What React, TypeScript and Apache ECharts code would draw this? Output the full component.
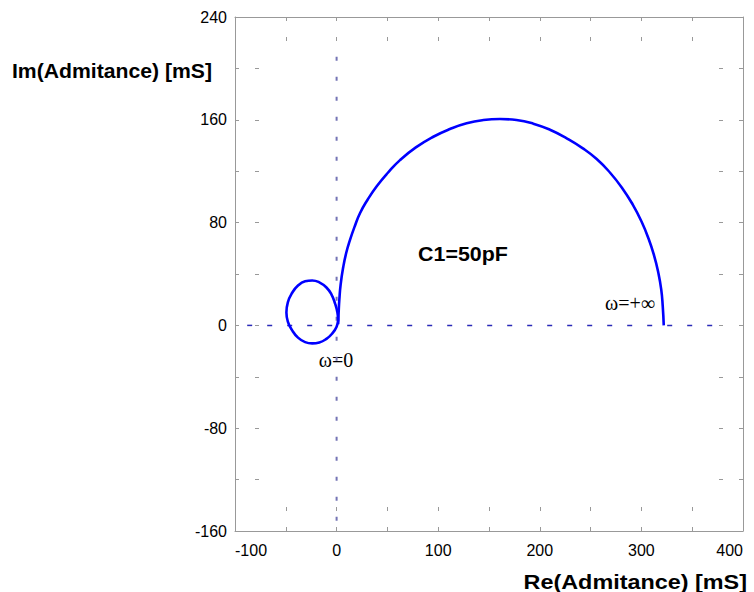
import React, { useEffect, useRef } from "react";
import * as echarts from "echarts";

// Tick labels
const xTicks = [-100, 0, 100, 200, 300, 400];
const yTicks = [-160, -80, 0, 80, 160, 240];

// Small loop near the origin (Re, Im) in mS
const loopRe = [1.5, 0, -4, -10, -17, -24, -31, -38, -44, -48, -49.4, -48, -44, -38, -31, -24, -17, -10, -5, -1.5, 0.8, 1.5];
const loopIm = [4, -1, -6, -10.5, -13.3, -14, -13, -9.5, -3.5, 3, 10, 18, 25, 31, 34.3, 35, 33.5, 29.5, 24, 17, 10, 4];

// Large arc (Re, Im) in mS
const arcRe = [1.5, 2, 2.7, 4, 6.6, 9.5, 13.2, 17.8, 23, 30.5, 39.5, 50.5, 62.4, 78, 95.2, 111.5, 128, 144.5, 160.8, 177, 193.6, 210, 226.5, 242, 256, 269, 281, 291.5, 300, 307, 312.5, 316.5, 319.5, 321, 322];
const arcIm = [1, 10, 20, 32, 45.7, 56.5, 66.5, 77, 87.3, 97.8, 108.3, 118.8, 128.6, 138.5, 146.8, 152.8, 157.3, 159.8, 160.6, 159.8, 157, 152.3, 145.6, 138, 129.5, 119, 107, 94, 81, 67.6, 54.3, 41.6, 28, 15, 0];

// Reference axes through the origin
const hAxisRe = [-88, 378];
const hAxisIm = [0, 0];
const vAxisRe = [0, 0];
const vAxisIm = [-152, 212];

const xLabel = "Re(Admitance) [mS]";
const yLabel = "Im(Admitance) [mS]";
const noteC = "C1=50pF";
const noteW0 = "ω=0";
const noteWinf = "ω=+∞";

const SANS = '"Liberation Sans", Arial, sans-serif';
const SERIF = '"Liberation Serif", "Times New Roman", serif';

const zip = (a: number[], b: number[]) => a.map((v, i) => [v, b[i]]);

export default function App() {
  const ref = useRef<HTMLDivElement>(null);
  useEffect(() => {
    document.body.style.margin = "0";
    const chart = echarts.init(ref.current!, undefined, { renderer: "svg" });
    const tick = { show: true, inside: true, length: 25, lineStyle: { color: "#999", width: 1, type: [4, 16] as any } };
    const line = { show: true, onZero: false, lineStyle: { color: "#999", width: 1 } };
    chart.setOption({
      animation: false,
      backgroundColor: "#fff",
      grid: { left: 235, right: 11, top: 17, bottom: 61, containLabel: false },
      xAxis: [
        {
          type: "value", min: -100, max: 400, interval: 50, position: "bottom",
          axisLine: line, axisTick: tick, splitLine: { show: false },
          axisLabel: {
            color: "#000", fontFamily: SANS, fontSize: 16, margin: 11,
            alignMinLabel: "left", alignMaxLabel: "right",
            formatter: (v: number) => (xTicks.includes(v) ? String(v) : ""),
          },
        },
        {
          type: "value", min: -100, max: 400, interval: 50, position: "top",
          axisLine: line, axisTick: tick, splitLine: { show: false }, axisLabel: { show: false },
        },
      ],
      yAxis: [
        {
          type: "value", min: -160, max: 240, interval: 40, position: "left",
          axisLine: line, axisTick: tick, splitLine: { show: false },
          axisLabel: {
            color: "#000", fontFamily: SANS, fontSize: 16, margin: 8, padding: [6, 0, 0, 0],
            formatter: (v: number) => (yTicks.includes(v) ? String(v) : ""),
          },
        },
        {
          type: "value", min: -160, max: 240, interval: 40, position: "right",
          axisLine: line, axisTick: tick, splitLine: { show: false }, axisLabel: { show: false },
        },
      ],
      series: [
        {
          type: "line", data: zip(hAxisRe, hAxisIm), showSymbol: false, silent: true,
          lineStyle: { color: "#2b2bb8", width: 1.5, type: [5, 15] as any },
        },
        {
          type: "line", data: zip(vAxisRe, vAxisIm), showSymbol: false, silent: true,
          lineStyle: { color: "#7474b4", width: 2, type: [4, 16] as any },
        },
        {
          type: "line", data: zip(loopRe, loopIm), showSymbol: false, smooth: 0.5,
          lineStyle: { color: "#0000ff", width: 2.6 },
        },
        {
          type: "line", data: zip(arcRe, arcIm), showSymbol: false, smooth: 0.5,
          lineStyle: { color: "#0000ff", width: 2.6 },
        },
      ],
      graphic: [
        {
          type: "text", x: 212, y: 71, scaleX: 1.06,
          style: { text: yLabel, fontFamily: SANS, fontSize: 20, fontWeight: "bold", fill: "#000", align: "right", verticalAlign: "middle" },
        },
        {
          type: "text", x: 747, y: 582, scaleX: 1.17,
          style: { text: xLabel, fontFamily: SANS, fontSize: 20, fontWeight: "bold", fill: "#000", align: "right", verticalAlign: "middle" },
        },
        {
          type: "text", x: 463, y: 254, scaleX: 1.07,
          style: { text: noteC, fontFamily: SANS, fontSize: 20, fontWeight: "bold", fill: "#000", align: "center", verticalAlign: "middle" },
        },
        {
          type: "text", x: 336, y: 360,
          style: { text: noteW0, fontFamily: SERIF, fontSize: 20, fill: "#000", align: "center", verticalAlign: "middle" },
        },
        {
          type: "text", x: 630, y: 303,
          style: { text: noteWinf, fontFamily: SERIF, fontSize: 20, fill: "#000", align: "center", verticalAlign: "middle" },
        },
      ],
    });
    return () => chart.dispose();
  }, []);
  return <div ref={ref} style={{ position: "fixed", left: 0, top: 0, width: 754, height: 592 }} />;
}
